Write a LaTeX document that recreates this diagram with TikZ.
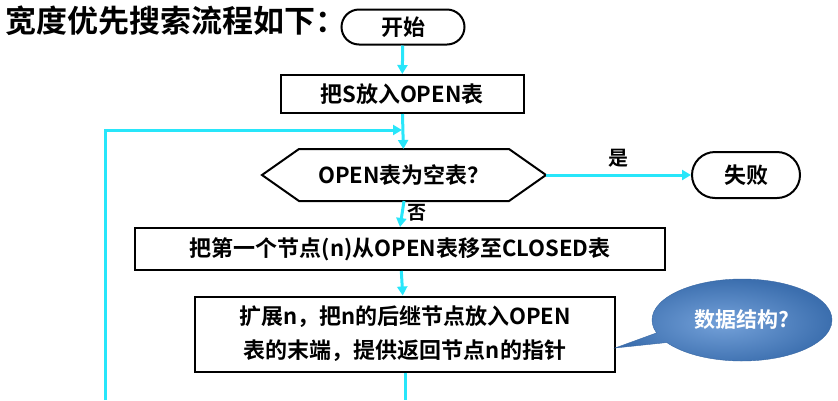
\documentclass[tikz,border=0pt]{standalone}
\usepackage{fontspec}
\setmainfont{Noto Sans CJK SC}[BoldFont={Noto Sans CJK SC Bold}]
\usetikzlibrary{arrows.meta,shapes.misc,shapes.callouts,shadings}
\definecolor{cy}{RGB}{40,230,250}
\definecolor{cb}{RGB}{70,130,205}
\begin{document}
\begin{tikzpicture}[x=1pt,y=-1pt,
  bx/.style={draw,line width=2pt,font=\bfseries\fontsize{22}{26}\selectfont,inner sep=0pt},
  rr/.style={bx,rounded rectangle},
  ln/.style={cy,line width=3pt},
  ar/.style={ln,-{Triangle[length=9pt,width=10pt]}}]
\useasboundingbox (0,0) rectangle (838,400);
\fill[white] (0,0) rectangle (838,400);
\node[anchor=west,font=\bfseries\fontsize{31}{34}\selectfont] (title) at (2,21) {宽度优先搜索流程如下：};
\node[rr,minimum width=123pt,minimum height=35pt] (start) at (403,27) {开始};
\node[bx,minimum width=243pt,minimum height=38pt] (s) at (402,94) {把S放入OPEN表};
\node[bx,draw=none,minimum width=282pt,minimum height=50pt] (q) at (404,175) {OPEN表为空表？};
\draw[line width=2pt,line join=miter] (q.west) -- ([xshift=37pt]q.north west) -- ([xshift=-37pt]q.north east) -- (q.east) -- ([xshift=-37pt]q.south east) -- ([xshift=37pt]q.south west) -- cycle;
\node[rr,minimum width=108pt,minimum height=46pt] (fail) at (746,175) {失败};
\node[bx,minimum width=530pt,minimum height=42pt] (m) at (400,249) {把第一个节点(n)从OPEN表移至CLOSED表};
\node[bx,minimum width=420pt,minimum height=75pt,align=center,font=\bfseries\fontsize{22}{34}\selectfont] (e) at (405,334) {扩展n，把n的后继节点放入OPEN\\表的末端，提供返回节点n的指针};
\coordinate (bot) at (405,400);
\coordinate (lb) at (105,400);
\coordinate (lt) at (105,130);
\coordinate (lj) at (402,130);
\draw[ar] (start) -- (s);
\draw[ar] (s) -- (q);
\draw[ar] (lb) -- (lt) -- (lj);
\draw[ar] (q) -- node[above,black,font=\bfseries\fontsize{20}{22}\selectfont,yshift=3pt] (yes) {是} (fail);
\draw[ar] (q.south) -- node[right,black,font=\bfseries\fontsize{19}{20}\selectfont,pos=0.45] (no) {否} (m.north);
\draw[ar] (m) -- (e);
\draw[ln] (e.south) -- (bot);
\node[ellipse callout,callout absolute pointer={(615,348)},minimum width=180pt,minimum height=82pt,
  inner color=cb!75!white,outer color=cb!85!black,draw=cb!80!black,text=white,
  font=\bfseries\fontsize{21}{24}\selectfont] (call) at (742,320) {数据结构?};
\end{tikzpicture}
\end{document}
